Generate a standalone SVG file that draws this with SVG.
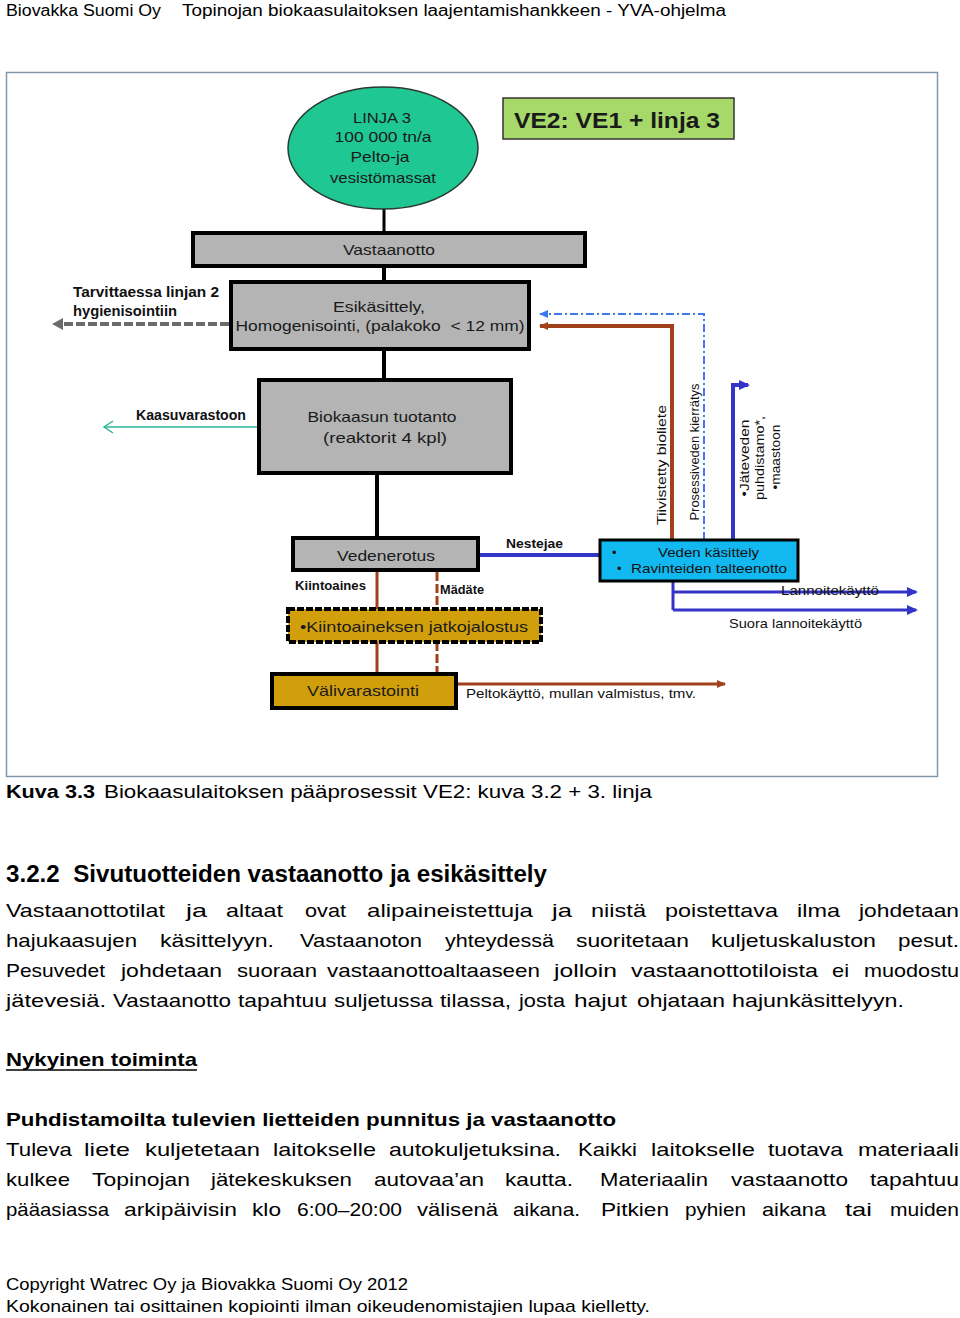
<svg xmlns="http://www.w3.org/2000/svg" width="960" height="1318" viewBox="0 0 960 1318">
<style>
.doc{font-family:"Liberation Sans",Arial,sans-serif;fill:#000}
.b{font-family:"Liberation Sans",Arial,sans-serif;fill:#000;font-size:19px}
.d{font-family:"Liberation Sans",Arial,sans-serif;fill:#1a1a1a;font-size:15px}
.lbl{font-family:"Liberation Sans",Arial,sans-serif;fill:#111;font-size:14px;font-weight:bold}
.lb13{font-family:"Liberation Sans",Arial,sans-serif;fill:#111;font-size:13px;font-weight:bold}
.lr13{font-family:"Liberation Sans",Arial,sans-serif;fill:#111;font-size:13px}
.box{fill:#b4b4b4;stroke:#000;stroke-width:4}
.gold{fill:#d29f0c;stroke:#000;stroke-width:4}
.brown{stroke:#a0411b;fill:none}
.blue{stroke:#3434c8;fill:none}
</style>
<defs>
<marker id="ahBrown" markerWidth="10" markerHeight="10" refX="8" refY="5" orient="auto" markerUnits="userSpaceOnUse"><path d="M0,1 L9,5 L0,9 Z" fill="#a0411b"/></marker>
<marker id="ahBlue" markerWidth="12" markerHeight="12" refX="9" refY="6" orient="auto" markerUnits="userSpaceOnUse"><path d="M0,1 L11,6 L0,11 Z" fill="#3434c8"/></marker>
<marker id="ahLBlue" markerWidth="10" markerHeight="10" refX="8" refY="5" orient="auto" markerUnits="userSpaceOnUse"><path d="M0,1 L9,5 L0,9 Z" fill="#3f78f0"/></marker>
</defs>
<rect x="0" y="0" width="960" height="1318" fill="#fff"/>
<text class="doc" x="6" y="16" font-size="16" textLength="155" lengthAdjust="spacingAndGlyphs">Biovakka Suomi Oy</text>
<text class="doc" x="182" y="16" font-size="16" textLength="544" lengthAdjust="spacingAndGlyphs">Topinojan biokaasulaitoksen laajentamishankkeen - YVA-ohjelma</text>
<rect x="6.5" y="72.5" width="931" height="704" fill="#fff" stroke="#8498ad" stroke-width="1.5"/>
<g id="connectors">
<line x1="384" y1="208" x2="384" y2="234" stroke="#000" stroke-width="3"/>
<line x1="384" y1="266" x2="384" y2="282" stroke="#000" stroke-width="4"/>
<line x1="384" y1="349" x2="384" y2="380" stroke="#000" stroke-width="4"/>
<line x1="377" y1="473" x2="377" y2="538" stroke="#000" stroke-width="4"/>
<line x1="229" y1="324" x2="62" y2="324" stroke="#6b6b6b" stroke-width="4" stroke-dasharray="9 3"/>
<path d="M52,324 L63,318 L63,330 Z" fill="#6b6b6b"/>
<line x1="259" y1="427" x2="104" y2="427" stroke="#2bb59a" stroke-width="1.5"/>
<polyline points="113,421 104,427 113,433" fill="none" stroke="#2bb59a" stroke-width="1.5"/>
<path class="brown" d="M672,540 V326 H540" stroke-width="4" marker-end="url(#ahBrown)"/>
<path d="M704,540 V314 H540" fill="none" stroke="#3f78f0" stroke-width="2" stroke-dasharray="8 3 2 3" marker-end="url(#ahLBlue)"/>
<path class="blue" d="M733,540 V385 H748" stroke-width="4" marker-end="url(#ahBlue)"/>
<line class="blue" x1="478" y1="555" x2="600" y2="555" stroke-width="4"/>
<path class="blue" d="M673,581 V610" stroke-width="3"/>
<path class="blue" d="M673,592 H916" stroke-width="3" marker-end="url(#ahBlue)"/>
<path class="blue" d="M673,610 H916" stroke-width="3" marker-end="url(#ahBlue)"/>
<line class="brown" x1="377" y1="572" x2="377" y2="609" stroke-width="3"/>
<line class="brown" x1="437" y1="572" x2="437" y2="609" stroke-width="3" stroke-dasharray="9 3"/>
<line class="brown" x1="377" y1="642" x2="377" y2="674" stroke-width="3"/>
<line class="brown" x1="437" y1="642" x2="437" y2="674" stroke-width="3" stroke-dasharray="9 3"/>
<path class="brown" d="M456,684 H725" stroke-width="3" marker-end="url(#ahBrown)"/>
</g>
<g id="linja3">
<ellipse cx="383" cy="148" rx="95" ry="61" fill="#1fc793" stroke="#2a3a30" stroke-width="1.5"/>
<text class="d" x="382" y="123" text-anchor="middle" textLength="58" lengthAdjust="spacingAndGlyphs">LINJA 3</text>
<text class="d" x="383" y="142" text-anchor="middle" textLength="97" lengthAdjust="spacingAndGlyphs">100 000 tn/a</text>
<text class="d" x="380" y="162" text-anchor="middle" textLength="59" lengthAdjust="spacingAndGlyphs">Pelto-ja</text>
<text class="d" x="383" y="183" text-anchor="middle" textLength="106" lengthAdjust="spacingAndGlyphs">vesistömassat</text>
</g>
<g id="ve2">
<rect x="503" y="98" width="231" height="41" fill="#a6d96a" stroke="#333" stroke-width="1.5"/>
<text x="617" y="128" text-anchor="middle" font-family="Liberation Sans, Arial, sans-serif" font-size="22" font-weight="bold" fill="#1a1a1a" textLength="206" lengthAdjust="spacingAndGlyphs">VE2: VE1 + linja 3</text>
</g>
<g id="vastaanotto">
<rect class="box" x="193" y="233" width="392" height="33"/>
<text class="d" x="389" y="255" text-anchor="middle" textLength="92" lengthAdjust="spacingAndGlyphs">Vastaanotto</text>
</g>
<g id="esikasittely">
<rect class="box" x="231" y="282" width="298" height="67"/>
<text class="d" x="379" y="312" text-anchor="middle" textLength="92" lengthAdjust="spacingAndGlyphs">Esikäsittely,</text>
<text class="d" x="380" y="331" text-anchor="middle" textLength="289" lengthAdjust="spacingAndGlyphs" xml:space="preserve">Homogenisointi, (palakoko  &lt; 12 mm)</text>
</g>
<g id="hygienisointi">
<text class="lbl" x="73" y="297" textLength="146" lengthAdjust="spacingAndGlyphs">Tarvittaessa linjan 2</text>
<text class="lbl" x="73" y="316" textLength="104" lengthAdjust="spacingAndGlyphs">hygienisointiin</text>
</g>
<g id="biokaasu">
<rect class="box" x="259" y="380" width="252" height="93"/>
<text class="d" x="382" y="422" text-anchor="middle" textLength="149" lengthAdjust="spacingAndGlyphs">Biokaasun tuotanto</text>
<text class="d" x="385" y="443" text-anchor="middle" textLength="124" lengthAdjust="spacingAndGlyphs">(reaktorit 4 kpl)</text>
</g>
<g id="kaasuvarasto">
<text class="lbl" x="136" y="420" textLength="110" lengthAdjust="spacingAndGlyphs">Kaasuvarastoon</text>
</g>
<g id="vedenerotus">
<rect class="box" x="293" y="538" width="185" height="32"/>
<text class="d" x="386" y="561" text-anchor="middle" textLength="98" lengthAdjust="spacingAndGlyphs">Vedenerotus</text>
</g>
<g id="flowlabels">
<text class="lb13" x="506" y="548" textLength="57" lengthAdjust="spacingAndGlyphs">Nestejae</text>
<text class="lb13" x="295" y="590" textLength="71" lengthAdjust="spacingAndGlyphs">Kiintoaines</text>
<text class="lb13" x="440" y="594" textLength="44" lengthAdjust="spacingAndGlyphs">Mädäte</text>
<text class="lr13" x="781" y="595" textLength="98" lengthAdjust="spacingAndGlyphs">Lannoitekäyttö</text>
<text class="lr13" x="729" y="628" textLength="133" lengthAdjust="spacingAndGlyphs">Suora lannoitekäyttö</text>
<text class="lr13" x="466" y="698" textLength="230" lengthAdjust="spacingAndGlyphs">Peltokäyttö, mullan valmistus, tmv.</text>
<text class="lr13" text-anchor="middle" transform="translate(666,465) rotate(-90)" textLength="120" lengthAdjust="spacingAndGlyphs">Tiivistetty bioliete</text>
<text class="lr13" text-anchor="middle" transform="translate(699,452) rotate(-90)" textLength="137" lengthAdjust="spacingAndGlyphs">Prosessiveden kierrätys</text>
<text class="lr13" text-anchor="middle" transform="translate(749,458) rotate(-90)" textLength="77" lengthAdjust="spacingAndGlyphs">•Jäteveden</text>
<text class="lr13" text-anchor="middle" transform="translate(764,458) rotate(-90)" textLength="84" lengthAdjust="spacingAndGlyphs">puhdistamo*,</text>
<text class="lr13" text-anchor="middle" transform="translate(780,457) rotate(-90)" textLength="65" lengthAdjust="spacingAndGlyphs">•maastoon</text>
</g>
<g id="vedenkasittely">
<rect x="600" y="540" width="198" height="41" fill="#12b9f0" stroke="#000" stroke-width="3"/>
<text class="lr13" x="612" y="557">•</text>
<text class="lr13" x="658" y="557" textLength="101" lengthAdjust="spacingAndGlyphs">Veden käsittely</text>
<text class="lr13" x="617" y="573">•</text>
<text class="lr13" x="631" y="573" textLength="156" lengthAdjust="spacingAndGlyphs">Ravinteiden talteenotto</text>
</g>
<g id="kiintoaines">
<rect x="288" y="609" width="253" height="33" fill="#d29f0c" stroke="#000" stroke-width="4" stroke-dasharray="7 2"/>
<text class="d" x="300" y="632" textLength="228" lengthAdjust="spacingAndGlyphs">•Kiintoaineksen jatkojalostus</text>
</g>
<g id="valivarastointi">
<rect class="gold" x="272" y="674" width="184" height="34"/>
<text class="d" x="363" y="696" text-anchor="middle" textLength="112" lengthAdjust="spacingAndGlyphs">Välivarastointi</text>
</g>
<text class="doc" x="6" y="798" font-size="19" font-weight="bold" textLength="89" lengthAdjust="spacingAndGlyphs">Kuva 3.3</text>
<text class="doc" x="104" y="798" font-size="19" textLength="548" lengthAdjust="spacingAndGlyphs">Biokaasulaitoksen pääprosessit VE2: kuva 3.2 + 3. linja</text>
<text class="doc" x="6" y="882" font-size="23" font-weight="bold" textLength="541" lengthAdjust="spacingAndGlyphs" xml:space="preserve">3.2.2  Sivutuotteiden vastaanotto ja esikäsittely</text>
<g id="para1">
<text class="b" y="917" x="6" textLength="159" lengthAdjust="spacingAndGlyphs">Vastaanottotilat</text>
<text class="b" y="917" x="186" textLength="21" lengthAdjust="spacingAndGlyphs">ja</text>
<text class="b" y="917" x="226" textLength="57" lengthAdjust="spacingAndGlyphs">altaat</text>
<text class="b" y="917" x="305" textLength="41" lengthAdjust="spacingAndGlyphs">ovat</text>
<text class="b" y="917" x="367" textLength="166" lengthAdjust="spacingAndGlyphs">alipaineistettuja</text>
<text class="b" y="917" x="552" textLength="20" lengthAdjust="spacingAndGlyphs">ja</text>
<text class="b" y="917" x="591" textLength="55" lengthAdjust="spacingAndGlyphs">niistä</text>
<text class="b" y="917" x="665" textLength="113" lengthAdjust="spacingAndGlyphs">poistettava</text>
<text class="b" y="917" x="797" textLength="43" lengthAdjust="spacingAndGlyphs">ilma</text>
<text class="b" y="917" x="859" textLength="100" lengthAdjust="spacingAndGlyphs">johdetaan</text>
<text class="b" y="947" x="6" textLength="131" lengthAdjust="spacingAndGlyphs">hajukaasujen</text>
<text class="b" y="947" x="160" textLength="114" lengthAdjust="spacingAndGlyphs">käsittelyyn.</text>
<text class="b" y="947" x="300" textLength="122" lengthAdjust="spacingAndGlyphs">Vastaanoton</text>
<text class="b" y="947" x="445" textLength="109" lengthAdjust="spacingAndGlyphs">yhteydessä</text>
<text class="b" y="947" x="576" textLength="113" lengthAdjust="spacingAndGlyphs">suoritetaan</text>
<text class="b" y="947" x="711" textLength="165" lengthAdjust="spacingAndGlyphs">kuljetuskaluston</text>
<text class="b" y="947" x="898" textLength="61" lengthAdjust="spacingAndGlyphs">pesut.</text>
<text class="b" y="977" x="6" textLength="99" lengthAdjust="spacingAndGlyphs">Pesuvedet</text>
<text class="b" y="977" x="121" textLength="101" lengthAdjust="spacingAndGlyphs">johdetaan</text>
<text class="b" y="977" x="237" textLength="80" lengthAdjust="spacingAndGlyphs">suoraan</text>
<text class="b" y="977" x="327" textLength="213" lengthAdjust="spacingAndGlyphs">vastaanottoaltaaseen</text>
<text class="b" y="977" x="554" textLength="63" lengthAdjust="spacingAndGlyphs">jolloin</text>
<text class="b" y="977" x="631" textLength="187" lengthAdjust="spacingAndGlyphs">vastaanottotiloista</text>
<text class="b" y="977" x="832" textLength="17" lengthAdjust="spacingAndGlyphs">ei</text>
<text class="b" y="977" x="864" textLength="95" lengthAdjust="spacingAndGlyphs">muodostu</text>
<text class="b" y="1007" x="6" textLength="100" lengthAdjust="spacingAndGlyphs">jätevesiä.</text>
<text class="b" y="1007" x="113" textLength="118" lengthAdjust="spacingAndGlyphs">Vastaanotto</text>
<text class="b" y="1007" x="238" textLength="89" lengthAdjust="spacingAndGlyphs">tapahtuu</text>
<text class="b" y="1007" x="334" textLength="99" lengthAdjust="spacingAndGlyphs">suljetussa</text>
<text class="b" y="1007" x="440" textLength="71" lengthAdjust="spacingAndGlyphs">tilassa,</text>
<text class="b" y="1007" x="519" textLength="46" lengthAdjust="spacingAndGlyphs">josta</text>
<text class="b" y="1007" x="574" textLength="53" lengthAdjust="spacingAndGlyphs">hajut</text>
<text class="b" y="1007" x="637" textLength="88" lengthAdjust="spacingAndGlyphs">ohjataan</text>
<text class="b" y="1007" x="732" textLength="172" lengthAdjust="spacingAndGlyphs">hajunkäsittelyyn.</text>
</g>
<text class="doc" x="6" y="1066" font-size="19" font-weight="bold" textLength="191" lengthAdjust="spacingAndGlyphs">Nykyinen toiminta</text>
<line x1="6" y1="1070" x2="197" y2="1070" stroke="#000" stroke-width="1.5"/>
<text class="doc" x="6" y="1126" font-size="19" font-weight="bold" textLength="610" lengthAdjust="spacingAndGlyphs">Puhdistamoilta tulevien lietteiden punnitus ja vastaanotto</text>
<g id="para2">
<text class="b" y="1156" x="6" textLength="66" lengthAdjust="spacingAndGlyphs">Tuleva</text>
<text class="b" y="1156" x="84" textLength="46" lengthAdjust="spacingAndGlyphs">liete</text>
<text class="b" y="1156" x="145" textLength="115" lengthAdjust="spacingAndGlyphs">kuljetetaan</text>
<text class="b" y="1156" x="273" textLength="103" lengthAdjust="spacingAndGlyphs">laitokselle</text>
<text class="b" y="1156" x="389" textLength="172" lengthAdjust="spacingAndGlyphs">autokuljetuksina.</text>
<text class="b" y="1156" x="578" textLength="59" lengthAdjust="spacingAndGlyphs">Kaikki</text>
<text class="b" y="1156" x="651" textLength="104" lengthAdjust="spacingAndGlyphs">laitokselle</text>
<text class="b" y="1156" x="768" textLength="75" lengthAdjust="spacingAndGlyphs">tuotava</text>
<text class="b" y="1156" x="858" textLength="101" lengthAdjust="spacingAndGlyphs">materiaali</text>
<text class="b" y="1186" x="6" textLength="64" lengthAdjust="spacingAndGlyphs">kulkee</text>
<text class="b" y="1186" x="92" textLength="98" lengthAdjust="spacingAndGlyphs">Topinojan</text>
<text class="b" y="1186" x="211" textLength="141" lengthAdjust="spacingAndGlyphs">jätekeskuksen</text>
<text class="b" y="1186" x="374" textLength="110" lengthAdjust="spacingAndGlyphs">autovaa’an</text>
<text class="b" y="1186" x="505" textLength="68" lengthAdjust="spacingAndGlyphs">kautta.</text>
<text class="b" y="1186" x="600" textLength="108" lengthAdjust="spacingAndGlyphs">Materiaalin</text>
<text class="b" y="1186" x="731" textLength="117" lengthAdjust="spacingAndGlyphs">vastaanotto</text>
<text class="b" y="1186" x="870" textLength="89" lengthAdjust="spacingAndGlyphs">tapahtuu</text>
<text class="b" y="1216" x="6" textLength="103" lengthAdjust="spacingAndGlyphs">pääasiassa</text>
<text class="b" y="1216" x="124" textLength="113" lengthAdjust="spacingAndGlyphs">arkipäivisin</text>
<text class="b" y="1216" x="252" textLength="29" lengthAdjust="spacingAndGlyphs">klo</text>
<text class="b" y="1216" x="297" textLength="105" lengthAdjust="spacingAndGlyphs">6:00–20:00</text>
<text class="b" y="1216" x="417" textLength="81" lengthAdjust="spacingAndGlyphs">välisenä</text>
<text class="b" y="1216" x="513" textLength="67" lengthAdjust="spacingAndGlyphs">aikana.</text>
<text class="b" y="1216" x="601" textLength="68" lengthAdjust="spacingAndGlyphs">Pitkien</text>
<text class="b" y="1216" x="685" textLength="61" lengthAdjust="spacingAndGlyphs">pyhien</text>
<text class="b" y="1216" x="762" textLength="64" lengthAdjust="spacingAndGlyphs">aikana</text>
<text class="b" y="1216" x="845" textLength="27" lengthAdjust="spacingAndGlyphs">tai</text>
<text class="b" y="1216" x="890" textLength="69" lengthAdjust="spacingAndGlyphs">muiden</text>
</g>
<text class="doc" x="6" y="1290" font-size="17" textLength="402" lengthAdjust="spacingAndGlyphs">Copyright Watrec Oy ja Biovakka Suomi Oy 2012</text>
<text class="doc" x="6" y="1312" font-size="17" textLength="644" lengthAdjust="spacingAndGlyphs">Kokonainen tai osittainen kopiointi ilman oikeudenomistajien lupaa kielletty.</text>
</svg>
